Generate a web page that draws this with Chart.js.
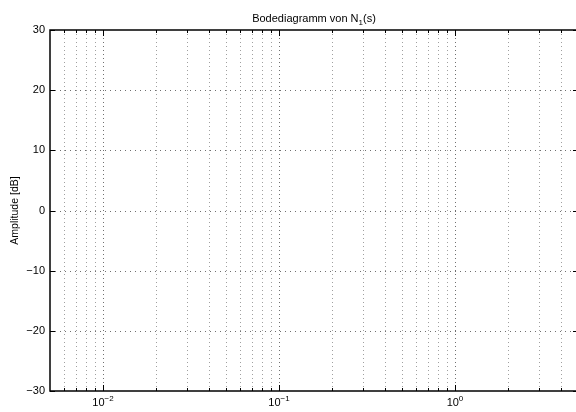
<!DOCTYPE html>
<html><head><meta charset="utf-8">
<script src="https://cdn.jsdelivr.net/npm/chart.js@4.4.1/dist/chart.umd.min.js"></script>
<style>
html,body{margin:0;padding:0;overflow:hidden;background:#fff;width:576px;height:412px}
#wrap{position:relative;width:580px;height:412px}
</style>
</head><body><div id="wrap"><canvas id="c" width="580" height="412"></canvas></div>
<script>
const titleMain = 'Bodediagramm von N';
const titleSub = '1';
const titleEnd = '(s)';
const yAxisTitle = 'Amplitude [dB]';
const xRange = [0.005, 5];
const yRange = [-30, 30];
const xMajorTicks = [0.01, 0.1, 1];
const xMajorExponents = ['\u22122', '\u22121', '0'];
const xMinorTicks = [0.006, 0.007, 0.008, 0.009,
  0.02, 0.03, 0.04, 0.05, 0.06, 0.07, 0.08, 0.09,
  0.2, 0.3, 0.4, 0.5, 0.6, 0.7, 0.8, 0.9,
  2, 3, 4];
const yTicks = [-30, -20, -10, 0, 10, 20, 30];
const yTickLabels = ['\u221230', '\u221220', '\u221210', '0', '10', '20', '30'];
const frequency = [];
const amplitudeDb = [];

const FONT = '"Liberation Sans", Arial, Helvetica, sans-serif';

const bodePlugin = {
  id: 'bode',
  afterDraw(chart) {
    const { ctx, chartArea: a, scales: { x, y } } = chart;
    ctx.save();
    // grid
    ctx.lineWidth = 1;
    ctx.setLineDash([1, 3]);
    xMinorTicks.forEach(v => {
      const px = Math.round(x.getPixelForValue(v)) + 0.5;
      ctx.strokeStyle = '#a0a0a0';
      ctx.beginPath(); ctx.moveTo(px, a.top); ctx.lineTo(px, a.bottom); ctx.stroke();
    });
    xMajorTicks.forEach(v => {
      const px = Math.round(x.getPixelForValue(v)) + 0.5;
      ctx.strokeStyle = '#707070';
      ctx.beginPath(); ctx.moveTo(px, a.top); ctx.lineTo(px, a.bottom); ctx.stroke();
    });
    ctx.setLineDash([1, 4]);
    ctx.strokeStyle = '#707070';
    yTicks.forEach(v => {
      if (v === yRange[0] || v === yRange[1]) return;
      const py = Math.round(y.getPixelForValue(v)) + 0.5;
      ctx.beginPath(); ctx.moveTo(a.left, py); ctx.lineTo(a.right, py); ctx.stroke();
    });
    ctx.setLineDash([]);
    // ticks
    ctx.strokeStyle = '#000';
    ctx.lineWidth = 1;
    const tick = (x1, y1, x2, y2) => { ctx.beginPath(); ctx.moveTo(x1, y1); ctx.lineTo(x2, y2); ctx.stroke(); };
    xMajorTicks.forEach(v => {
      const px = Math.round(x.getPixelForValue(v)) + 0.5;
      tick(px, a.bottom, px, a.bottom - 6);
      tick(px, a.top, px, a.top + 6);
    });
    xMinorTicks.forEach(v => {
      const px = Math.round(x.getPixelForValue(v)) + 0.5;
      tick(px, a.bottom, px, a.bottom - 3);
      tick(px, a.top, px, a.top + 3);
    });
    yTicks.forEach(v => {
      const py = Math.round(y.getPixelForValue(v)) + 0.5;
      tick(a.left, py, a.left + 5, py);
      tick(a.right, py, a.right - 5, py);
    });
    // box
    ctx.lineWidth = 1.5;
    ctx.strokeRect(a.left, a.top, a.right - a.left, a.bottom - a.top);
    // y tick labels
    ctx.fillStyle = '#000';
    ctx.font = '11px ' + FONT;
    ctx.textAlign = 'right';
    ctx.textBaseline = 'middle';
    yTicks.forEach((v, i) => {
      const py = y.getPixelForValue(v);
      ctx.fillText(yTickLabels[i], a.left - 5, py);
    });
    // x tick labels
    ctx.textBaseline = 'alphabetic';
    ctx.textAlign = 'left';
    xMajorTicks.forEach((v, i) => {
      const px = x.getPixelForValue(v);
      ctx.font = '11px ' + FONT;
      const wb = ctx.measureText('10').width;
      ctx.font = '8px ' + FONT;
      const we = ctx.measureText(xMajorExponents[i]).width;
      const sx = px - (wb + we) / 2;
      ctx.font = '11px ' + FONT;
      ctx.fillText('10', sx, a.bottom + 15);
      ctx.font = '8px ' + FONT;
      ctx.fillText(xMajorExponents[i], sx + wb, a.bottom + 10);
    });
    // title
    ctx.font = '11px ' + FONT;
    const w1 = ctx.measureText(titleMain).width;
    const w3 = ctx.measureText(titleEnd).width;
    ctx.font = '8px ' + FONT;
    const w2 = ctx.measureText(titleSub).width;
    const cx = (a.left + a.right) / 2;
    let tx = cx - (w1 + w2 + w3) / 2;
    const ty = 22;
    ctx.font = '11px ' + FONT;
    ctx.fillText(titleMain, tx, ty);
    ctx.font = '8px ' + FONT;
    ctx.fillText(titleSub, tx + w1, ty + 3);
    ctx.font = '11px ' + FONT;
    ctx.fillText(titleEnd, tx + w1 + w2, ty);
    // y axis title
    ctx.save();
    ctx.translate(18, (a.top + a.bottom) / 2);
    ctx.rotate(-Math.PI / 2);
    ctx.textAlign = 'center';
    ctx.textBaseline = 'alphabetic';
    ctx.font = '10.5px ' + FONT;
    ctx.fillText(yAxisTitle, 0, 0);
    ctx.restore();
    ctx.restore();
  }
};

new Chart(document.getElementById('c'), {
  type: 'scatter',
  data: {
    datasets: [{
      label: yAxisTitle,
      data: frequency.map((f, i) => ({ x: f, y: amplitudeDb[i] })),
      borderColor: '#0000ff',
      showLine: true,
      pointRadius: 0
    }]
  },
  options: {
    responsive: false,
    animation: false,
    layout: { padding: { left: 50, top: 30, right: 2, bottom: 21 } },
    plugins: { legend: { display: false }, tooltip: { enabled: false }, title: { display: false } },
    scales: {
      x: {
        type: 'logarithmic', min: xRange[0], max: xRange[1],
        ticks: { display: false },
        grid: { display: false, drawTicks: false },
        border: { display: false }
      },
      y: {
        type: 'linear', min: yRange[0], max: yRange[1],
        ticks: { display: false },
        grid: { display: false, drawTicks: false },
        border: { display: false }
      }
    }
  },
  plugins: [bodePlugin]
});
</script>
</body></html>
